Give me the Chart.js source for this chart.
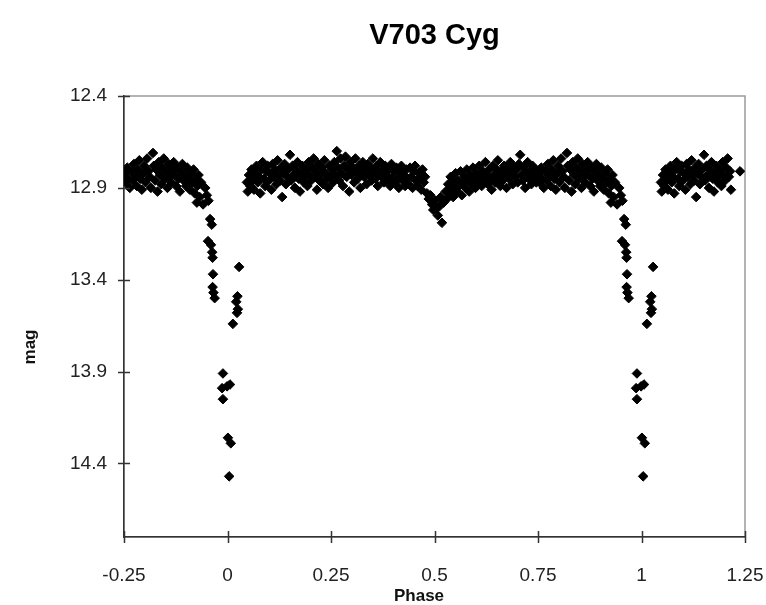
<!DOCTYPE html>
<html lang="en">
<head>
<meta charset="UTF-8">
<title>V703 Cyg</title>
<script src="https://cdn.jsdelivr.net/npm/chart.js@4"></script>
<style>
  body { margin: 0; background: #fff; }
</style>
</head>
<body>
<canvas id="grafico" width="766" height="605"></canvas>
<script>
// curva de luz em fase, lida do grafico original
// trecho -0.25 .. 0.25 (primeiro minimo)
const faseA = [
  -0.248, -0.246, -0.242, -0.239, -0.236, -0.232, -0.229, -0.226, -0.223, -0.219,
  -0.216, -0.213, -0.210, -0.207, -0.204, -0.201, -0.198, -0.194, -0.191, -0.188,
  -0.185, -0.180, -0.178, -0.175, -0.172, -0.169, -0.166, -0.163, -0.160, -0.157,
  -0.154, -0.151, -0.148, -0.145, -0.142, -0.139, -0.136, -0.133, -0.130, -0.127,
  -0.124, -0.121, -0.118, -0.115, -0.112, -0.109, -0.106, -0.103, -0.100, -0.097,
  -0.094, -0.091, -0.088, -0.085, -0.082, -0.079, -0.076, -0.073, -0.070, -0.067,
  -0.064,
  -0.074, -0.059, -0.054, -0.050, -0.046, -0.042, -0.038, -0.047, -0.040, -0.037,
  -0.036, -0.035, -0.036, -0.034, -0.031,
  -0.011, -0.013, -0.001, 0.006, -0.011, 0.001, 0.008, 0.004,
  0.028, 0.024, 0.021, 0.025, 0.023, 0.013,
  0.047, 0.049, 0.052, 0.055, 0.058, 0.061, 0.064, 0.067, 0.070, 0.073,
  0.076, 0.079, 0.082, 0.085, 0.088, 0.091, 0.094, 0.097, 0.100, 0.103,
  0.106, 0.109, 0.112, 0.115, 0.118, 0.121, 0.124, 0.127, 0.130, 0.132,
  0.135, 0.138, 0.141, 0.144, 0.147, 0.151, 0.154, 0.157, 0.160, 0.163,
  0.166, 0.169, 0.172, 0.175, 0.178, 0.181, 0.184, 0.187, 0.190, 0.193,
  0.196, 0.199, 0.202, 0.205, 0.208, 0.211, 0.214, 0.216, 0.219, 0.222,
  0.225, 0.228, 0.231, 0.234, 0.237, 0.240, 0.243, 0.246, 0.249
];
const magA = [
  12.82, 12.87, 12.79, 12.85, 12.90, 12.81, 12.86, 12.77, 12.83, 12.89,
  12.80, 12.75, 12.85, 12.91, 12.82, 12.78, 12.87, 12.74, 12.81, 12.84,
  12.90, 12.71, 12.78, 12.86, 12.80, 12.92, 12.76, 12.83, 12.88, 12.79,
  12.74, 12.85, 12.81, 12.90, 12.77, 12.84, 12.87, 12.80, 12.76, 12.83,
  12.89, 12.79, 12.85, 12.92, 12.81, 12.77, 12.86, 12.83, 12.89, 12.79,
  12.85, 12.91, 12.82, 12.87, 12.80, 12.93, 12.85, 12.89, 12.83, 12.95,
  12.87,
  12.98, 12.99, 12.90, 12.94, 12.97, 13.07, 13.10, 13.19, 13.21, 13.25,
  13.28, 13.37, 13.44, 13.47, 13.50,
  13.91, 13.99, 13.98, 13.97, 14.05, 14.26, 14.29, 14.47,
  13.33, 13.49, 13.52, 13.56, 13.58, 13.64,
  12.87, 12.92, 12.83, 12.89, 12.80, 12.86, 12.91, 12.82, 12.78, 12.87,
  12.84, 12.93, 12.80, 12.76, 12.85, 12.89, 12.81, 12.78, 12.86, 12.82,
  12.91, 12.77, 12.84, 12.80, 12.88, 12.75, 12.83, 12.86, 12.79, 12.95,
  12.82, 12.77, 12.88, 12.84, 12.80, 12.72, 12.86, 12.78, 12.83, 12.90,
  12.80, 12.76, 12.85, 12.92, 12.82, 12.78, 12.87, 12.84, 12.80, 12.89,
  12.76, 12.83, 12.86, 12.79, 12.74, 12.84, 12.81, 12.91, 12.77, 12.86,
  12.83, 12.79, 12.88, 12.75, 12.82, 12.85, 12.90, 12.78, 12.84
];

// trecho 0.25 .. 0.75 (minimo secundario perto de 0.5)
const faseB = [
  0.252, 0.255, 0.258, 0.261, 0.264, 0.267, 0.270, 0.273, 0.276, 0.279,
  0.282, 0.285, 0.288, 0.291, 0.294, 0.297, 0.300, 0.303, 0.306, 0.309,
  0.312, 0.315, 0.318, 0.321, 0.324, 0.327, 0.330, 0.333, 0.336, 0.339,
  0.342, 0.345, 0.348, 0.351, 0.354, 0.357, 0.360, 0.363, 0.366, 0.369,
  0.372, 0.375, 0.378, 0.381, 0.384, 0.387, 0.390, 0.393, 0.396, 0.399,
  0.402, 0.405, 0.408, 0.411, 0.414, 0.417, 0.420, 0.423, 0.426, 0.429,
  0.432, 0.435, 0.438, 0.441, 0.444, 0.447, 0.450, 0.453, 0.456, 0.459,
  0.462, 0.465, 0.468, 0.471, 0.474, 0.477,
  0.482, 0.486, 0.490, 0.494, 0.497, 0.501, 0.505, 0.508, 0.512, 0.518,
  0.515, 0.522,
  0.527, 0.530, 0.533, 0.536, 0.539, 0.542, 0.545, 0.548, 0.551, 0.554,
  0.557, 0.560, 0.563, 0.566, 0.569, 0.572, 0.575, 0.578, 0.581, 0.584,
  0.587, 0.590, 0.593, 0.596, 0.599, 0.602, 0.605, 0.608, 0.611, 0.614,
  0.617, 0.620, 0.623, 0.626, 0.629, 0.632, 0.635, 0.638, 0.641, 0.644,
  0.647, 0.650, 0.653, 0.656, 0.659, 0.662, 0.665, 0.668, 0.671, 0.674,
  0.677, 0.680, 0.683, 0.686, 0.689, 0.692, 0.695, 0.698, 0.701, 0.704,
  0.707, 0.710, 0.713, 0.716, 0.719, 0.722, 0.725, 0.728, 0.731, 0.734,
  0.737, 0.740, 0.743, 0.746, 0.749
];
const magB = [
  12.80, 12.87, 12.76, 12.83, 12.70, 12.79, 12.86, 12.74, 12.82, 12.89,
  12.78, 12.73, 12.84, 12.80, 12.92, 12.76, 12.83, 12.79, 12.87, 12.74,
  12.81, 12.85, 12.78, 12.90, 12.82, 12.76, 12.84, 12.80, 12.88, 12.77,
  12.83, 12.79, 12.86, 12.74, 12.81, 12.85, 12.78, 12.89, 12.82, 12.76,
  12.84, 12.80, 12.87, 12.78, 12.83, 12.86, 12.80, 12.89, 12.77, 12.84,
  12.81, 12.87, 12.79, 12.85, 12.90, 12.82, 12.78, 12.86, 12.83, 12.89,
  12.80, 12.85, 12.88, 12.79, 12.84, 12.90, 12.81, 12.78, 12.86, 12.89,
  12.82, 12.85, 12.91, 12.80, 12.87, 12.84,
  12.93, 12.96, 12.94, 12.99, 13.02, 12.97, 13.01, 13.05, 13.00, 13.09,
  12.95, 12.98,
  12.92, 12.96, 12.88, 12.93, 12.84, 12.90, 12.95, 12.87, 12.82, 12.92,
  12.86, 12.89, 12.81, 12.94, 12.87, 12.84, 12.90, 12.80, 12.86, 12.92,
  12.83, 12.88, 12.79, 12.85, 12.90, 12.82, 12.87, 12.78, 12.84, 12.89,
  12.81, 12.86, 12.76, 12.83, 12.88, 12.80, 12.85, 12.91, 12.78, 12.83,
  12.87, 12.80, 12.75, 12.84, 12.89, 12.81, 12.86, 12.78, 12.83, 12.90,
  12.80, 12.85, 12.76, 12.82, 12.88, 12.79, 12.84, 12.80, 12.87, 12.77,
  12.72, 12.83, 12.86, 12.79, 12.90, 12.82, 12.76, 12.85, 12.81, 12.88,
  12.78, 12.84, 12.80, 12.87, 12.83
];

// trecho 0.75 .. 1.25 (mesmas medidas repetidas um ciclo depois)
const faseC = [
  0.752, 0.754, 0.758, 0.761, 0.764, 0.768, 0.771, 0.774, 0.777, 0.781,
  0.784, 0.787, 0.790, 0.793, 0.796, 0.799, 0.802, 0.806, 0.809, 0.812,
  0.815, 0.820, 0.822, 0.825, 0.828, 0.831, 0.834, 0.837, 0.840, 0.843,
  0.846, 0.849, 0.852, 0.855, 0.858, 0.861, 0.864, 0.867, 0.870, 0.873,
  0.876, 0.879, 0.882, 0.885, 0.888, 0.891, 0.894, 0.897, 0.900, 0.903,
  0.906, 0.909, 0.912, 0.915, 0.918, 0.921, 0.924, 0.927, 0.930, 0.933,
  0.936,
  0.926, 0.941, 0.946, 0.950, 0.954, 0.958, 0.962, 0.953, 0.960, 0.963,
  0.964, 0.965, 0.964, 0.966, 0.969,
  0.989, 0.987, 0.999, 1.006, 0.989, 1.001, 1.008, 1.004,
  1.028, 1.024, 1.021, 1.025, 1.023, 1.013,
  1.047, 1.049, 1.052, 1.055, 1.058, 1.061, 1.064, 1.067, 1.070, 1.073,
  1.076, 1.079, 1.082, 1.085, 1.088, 1.091, 1.094, 1.097, 1.100, 1.103,
  1.106, 1.109, 1.112, 1.115, 1.118, 1.121, 1.124, 1.127, 1.130, 1.132,
  1.135, 1.138, 1.141, 1.144, 1.147, 1.151, 1.154, 1.157, 1.160, 1.163,
  1.166, 1.169, 1.172, 1.175, 1.178, 1.181, 1.184, 1.187, 1.190, 1.193,
  1.196, 1.199, 1.202, 1.205, 1.208, 1.211, 1.214, 1.216, 1.238
];
const magC = [
  12.82, 12.87, 12.79, 12.85, 12.90, 12.81, 12.86, 12.77, 12.83, 12.89,
  12.80, 12.75, 12.85, 12.91, 12.82, 12.78, 12.87, 12.74, 12.81, 12.84,
  12.90, 12.71, 12.78, 12.86, 12.80, 12.92, 12.76, 12.83, 12.88, 12.79,
  12.74, 12.85, 12.81, 12.90, 12.77, 12.84, 12.87, 12.80, 12.76, 12.83,
  12.89, 12.79, 12.85, 12.92, 12.81, 12.77, 12.86, 12.83, 12.89, 12.79,
  12.85, 12.91, 12.82, 12.87, 12.80, 12.93, 12.85, 12.89, 12.83, 12.95,
  12.87,
  12.98, 12.99, 12.90, 12.94, 12.97, 13.07, 13.10, 13.19, 13.21, 13.25,
  13.28, 13.37, 13.44, 13.47, 13.50,
  13.91, 13.99, 13.98, 13.97, 14.05, 14.26, 14.29, 14.47,
  13.33, 13.49, 13.52, 13.56, 13.58, 13.64,
  12.87, 12.92, 12.83, 12.89, 12.80, 12.86, 12.91, 12.82, 12.78, 12.87,
  12.84, 12.93, 12.80, 12.76, 12.85, 12.89, 12.81, 12.78, 12.86, 12.82,
  12.91, 12.77, 12.84, 12.80, 12.88, 12.75, 12.83, 12.86, 12.79, 12.95,
  12.82, 12.77, 12.88, 12.84, 12.80, 12.72, 12.86, 12.78, 12.83, 12.90,
  12.80, 12.76, 12.85, 12.92, 12.82, 12.78, 12.87, 12.84, 12.80, 12.89,
  12.76, 12.83, 12.86, 12.79, 12.74, 12.84, 12.81, 12.91, 12.81
];

const ticksFase = [-0.25, 0, 0.25, 0.5, 0.75, 1, 1.25];
const ticksMag = [12.4, 12.9, 13.4, 13.9, 14.4];

const fonte = "'Liberation Sans', Arial, sans-serif";

function juntar(fases, mags) {
  return fases.map((f, i) => ({ x: f, y: mags[i] }));
}
const pontos = [].concat(juntar(faseA, magA), juntar(faseB, magB), juntar(faseC, magC));

// moldura cinza do plot, marcas cruzando os eixos e os textos (estilo Excel)
const moldura = {
  id: 'moldura',
  beforeDraw(chart) {
    const a = chart.chartArea, ctx = chart.ctx;
    ctx.save();
    ctx.strokeStyle = '#9a9a9a';
    ctx.lineWidth = 1.5;
    ctx.strokeRect(a.left, a.top, a.right - a.left, a.bottom - a.top);
    ctx.restore();
  },
  afterDraw(chart) {
    const a = chart.chartArea, ctx = chart.ctx;
    const sx = chart.scales.x, sy = chart.scales.y;
    ctx.save();
    ctx.strokeStyle = '#333';
    ctx.lineWidth = 1.5;
    ctx.beginPath();
    sx.ticks.forEach(t => {
      const px = Math.round(sx.getPixelForValue(t.value)) + 0.5;
      ctx.moveTo(px, a.bottom - 6);
      ctx.lineTo(px, a.bottom + 6);
    });
    sy.ticks.forEach(t => {
      const py = Math.round(sy.getPixelForValue(t.value)) + 0.5;
      ctx.moveTo(a.left - 6, py);
      ctx.lineTo(a.left + 6, py);
    });
    ctx.stroke();

    // titulo
    ctx.fillStyle = '#000';
    ctx.textAlign = 'center';
    ctx.textBaseline = 'middle';
    ctx.font = "bold 29px " + fonte;
    ctx.fillText('V703 Cyg', (a.left + a.right) / 2, 36);

    // titulos dos eixos
    ctx.fillStyle = '#111';
    ctx.font = "bold 17px " + fonte;
    ctx.fillText('Phase', 419, 596);
    ctx.translate(30, 347);
    ctx.rotate(-Math.PI / 2);
    ctx.fillText('mag', 0, 0);
    ctx.restore();
  }
};

new Chart(document.getElementById('grafico'), {
  type: 'scatter',
  data: {
    datasets: [{
      label: 'V703 Cyg',
      data: pontos,
      pointStyle: 'rectRot',
      pointRadius: 4.8,
      pointBorderWidth: 1,
      backgroundColor: '#000',
      borderColor: '#000'
    }]
  },
  plugins: [moldura],
  options: {
    responsive: false,
    animation: false,
    devicePixelRatio: 1,
    layout: { padding: { left: 0, right: 21, top: 96, bottom: 0 } },
    plugins: {
      legend: { display: false },
      tooltip: { enabled: false },
      title: { display: false }
    },
    scales: {
      x: {
        type: 'linear',
        min: -0.25,
        max: 1.25,
        afterBuildTicks: s => { s.ticks = ticksFase.map(v => ({ value: v })); },
        afterFit: s => { s.height = 68; s.paddingLeft = 0; s.paddingRight = 0; },
        ticks: {
          color: '#222',
          padding: 27,
          maxRotation: 0,
          font: { family: fonte, size: 19 },
          callback: v => String(v)
        },
        grid: { display: true, drawOnChartArea: false, drawTicks: false },
        border: { color: '#333', width: 1.5 }
      },
      y: {
        type: 'linear',
        reverse: true,
        min: 12.4,
        max: 14.8,
        afterBuildTicks: s => { s.ticks = ticksMag.map(v => ({ value: v })); },
        afterFit: s => { s.width = 124; s.paddingTop = 0; s.paddingBottom = 0; },
        ticks: {
          color: '#222',
          padding: 17,
          font: { family: fonte, size: 19 },
          callback: v => v.toFixed(1)
        },
        grid: { display: true, drawOnChartArea: false, drawTicks: false },
        border: { color: '#333', width: 1.5 }
      }
    }
  }
});
</script>
</body>
</html>
